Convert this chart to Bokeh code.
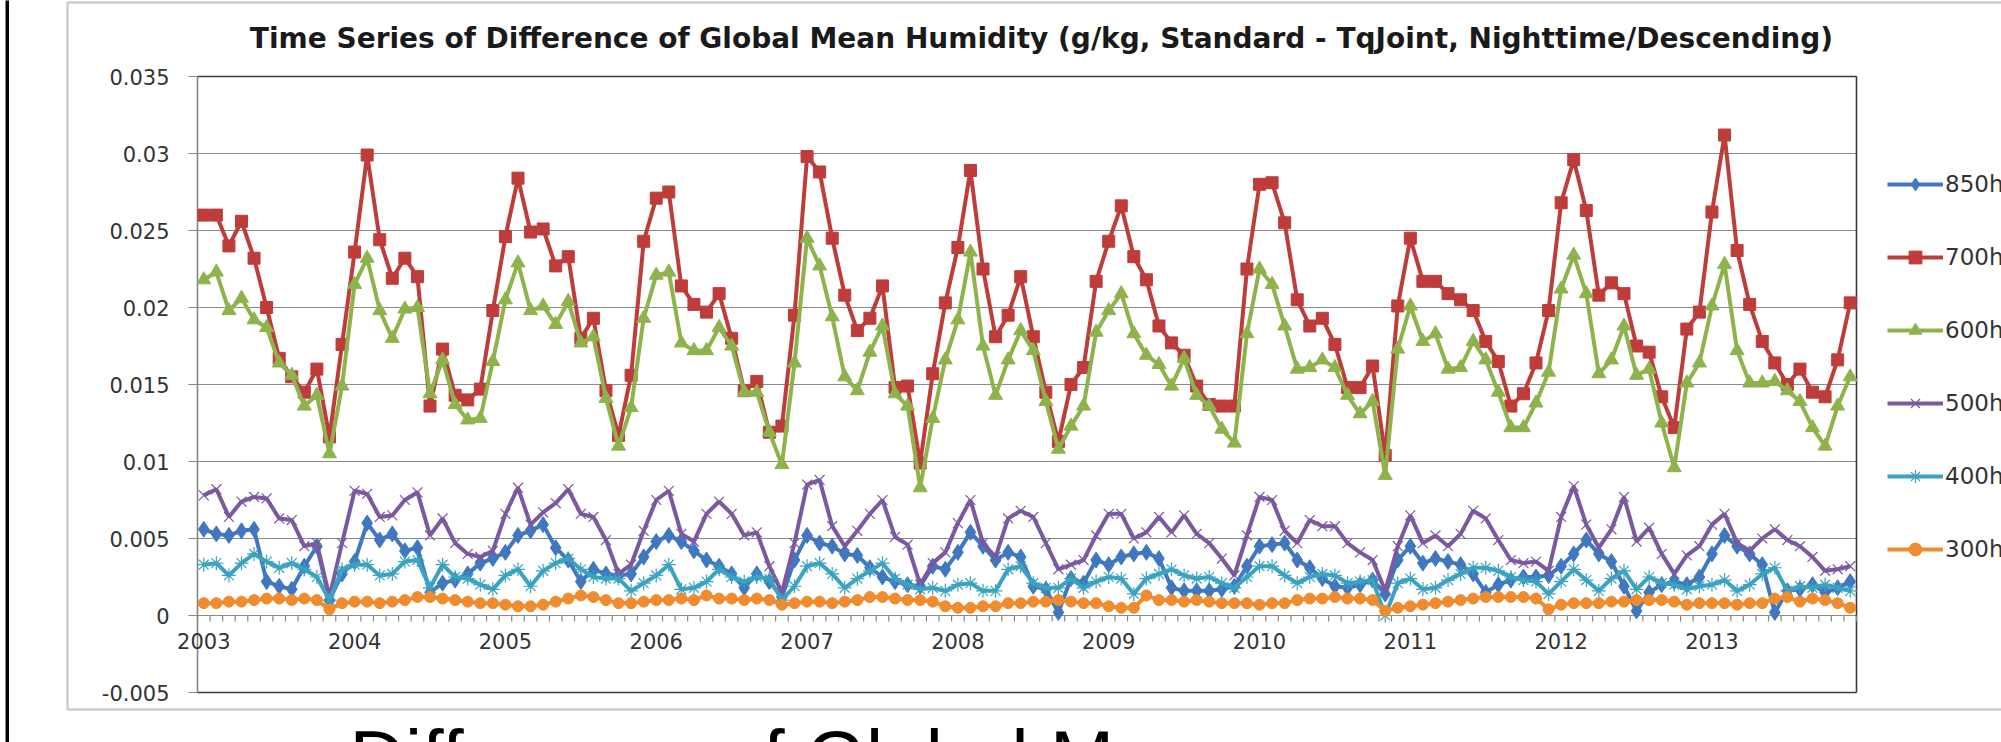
from bokeh.plotting import figure
from bokeh.models import (Range1d, Label, LabelSet, ColumnDataSource,
                          Legend, LegendItem, BoxAnnotation)
from bokeh.core.properties import value
from bokeh.embed import file_html
from bokeh.resources import INLINE

# ---------------- data (monthly, Jan 2003 .. Dec 2013) ----------------
years = ["2003", "2004", "2005", "2006", "2007", "2008", "2009", "2010", "2011", "2012", "2013"]
series_names = ["850hPa", "700hPa", "600hPa", "500hPa", "400hPa", "300hPa"]
y_tick_values = [-0.005, 0.0, 0.005, 0.01, 0.015, 0.02, 0.025, 0.03, 0.035]
y_tick_labels = ["-0.005", "0", "0.005", "0.01", "0.015", "0.02", "0.025", "0.03", "0.035"]

p850 = [0.0056, 0.0053, 0.0052, 0.0055, 0.0056, 0.0022, 0.0019, 0.0017, 0.0032, 0.0045, 0.0010, 0.0027,
        0.0035, 0.0060, 0.0049, 0.0053, 0.0042, 0.0044, 0.0015, 0.0021, 0.0023, 0.0027, 0.0034, 0.0037,
        0.0041, 0.0052, 0.0055, 0.0059, 0.0044, 0.0036, 0.0022, 0.0030, 0.0027,
        0.0026, 0.0027, 0.0038, 0.0048, 0.0052, 0.0048, 0.0042, 0.0036, 0.0032, 0.0027, 0.0018, 0.0027,
        0.0022, 0.0012, 0.0036, 0.0052, 0.0047, 0.0045, 0.0040, 0.0039, 0.0031, 0.0025, 0.0022, 0.0020,
        0.0019, 0.0032, 0.0030, 0.0041, 0.0054, 0.0045, 0.0036, 0.0041, 0.0038,
        0.0019, 0.0017, 0.0002, 0.0024, 0.0021, 0.0036, 0.0033, 0.0038, 0.0040, 0.0041, 0.0037, 0.0018,
        0.0016, 0.0016, 0.0016, 0.0017, 0.0019, 0.0032, 0.0045, 0.0046, 0.0047, 0.0036, 0.0031, 0.0024,
        0.0019, 0.0018, 0.0020, 0.0023, 0.0014, 0.0036, 0.0045, 0.0034,
        0.0037, 0.0035, 0.0033, 0.0027, 0.0015, 0.0020, 0.0023, 0.0025, 0.0025, 0.0026, 0.0032, 0.0040,
        0.0049, 0.0040, 0.0035, 0.0019, 0.0003, 0.0015, 0.0020, 0.0022, 0.0020, 0.0025, 0.0040, 0.0052,
        0.0045, 0.0040, 0.0033, 0.0002, 0.0016, 0.0017, 0.0020, 0.0015, 0.0018, 0.0022]

p700 = [0.0260, 0.0260, 0.0240, 0.0256, 0.0232, 0.0200, 0.0167, 0.0155, 0.0145, 0.0160, 0.0116, 0.0176,
        0.0236, 0.0299, 0.0244, 0.0219, 0.0232, 0.0220, 0.0136, 0.0173, 0.0143, 0.0140, 0.0147, 0.0198,
        0.0246, 0.0284, 0.0249, 0.0251, 0.0227, 0.0233, 0.0180, 0.0193, 0.0146,
        0.0117, 0.0156, 0.0243, 0.0271, 0.0275, 0.0214, 0.0202, 0.0197, 0.0209, 0.0180, 0.0146, 0.0152,
        0.0119, 0.0123, 0.0195, 0.0298, 0.0288, 0.0245, 0.0208, 0.0185, 0.0193, 0.0214, 0.0148, 0.0149,
        0.0099, 0.0157, 0.0203, 0.0239, 0.0289, 0.0225, 0.0181, 0.0195, 0.0220,
        0.0181, 0.0145, 0.0113, 0.0150, 0.0161, 0.0217, 0.0243, 0.0266, 0.0233, 0.0218, 0.0188, 0.0177,
        0.0169, 0.0149, 0.0137, 0.0136, 0.0136, 0.0225, 0.0280, 0.0281, 0.0255, 0.0205, 0.0188, 0.0193,
        0.0176, 0.0148, 0.0148, 0.0162, 0.0104, 0.0201, 0.0245, 0.0217,
        0.0217, 0.0209, 0.0205, 0.0198, 0.0178, 0.0165, 0.0136, 0.0144, 0.0164, 0.0198, 0.0268, 0.0296,
        0.0263, 0.0208, 0.0216, 0.0209, 0.0175, 0.0171, 0.0142, 0.0122, 0.0186, 0.0197, 0.0262, 0.0312,
        0.0237, 0.0202, 0.0178, 0.0164, 0.0150, 0.0160, 0.0145, 0.0142, 0.0166, 0.0203]

p600 = [0.0218, 0.0223, 0.0198, 0.0206, 0.0192, 0.0187, 0.0164, 0.0156, 0.0136, 0.0143, 0.0105, 0.0149,
        0.0215, 0.0232, 0.0198, 0.0180, 0.0199, 0.0200, 0.0144, 0.0166, 0.0137, 0.0127, 0.0128, 0.0165,
        0.0205, 0.0229, 0.0198, 0.0201, 0.0189, 0.0204, 0.0177, 0.0181, 0.0141,
        0.0110, 0.0135, 0.0193, 0.0221, 0.0223, 0.0177, 0.0172, 0.0172, 0.0187, 0.0175, 0.0145, 0.0145,
        0.0119, 0.0098, 0.0164, 0.0245, 0.0227, 0.0194, 0.0155, 0.0146, 0.0171, 0.0188, 0.0144, 0.0136,
        0.0083, 0.0128, 0.0166, 0.0192, 0.0236, 0.0175, 0.0143, 0.0166, 0.0185,
        0.0172, 0.0139, 0.0108, 0.0123, 0.0136, 0.0184, 0.0198, 0.0209, 0.0183, 0.0169, 0.0163, 0.0149,
        0.0167, 0.0143, 0.0136, 0.0121, 0.0112, 0.0183, 0.0225, 0.0215, 0.0188, 0.0160, 0.0161, 0.0166,
        0.0161, 0.0143, 0.0131, 0.0139, 0.0091, 0.0173, 0.0201, 0.0178,
        0.0183, 0.0160, 0.0161, 0.0178, 0.0166, 0.0145, 0.0122, 0.0122, 0.0138, 0.0158, 0.0212, 0.0234,
        0.0209, 0.0157, 0.0166, 0.0188, 0.0156, 0.0160, 0.0125, 0.0096, 0.0151, 0.0164, 0.0201, 0.0228,
        0.0172, 0.0151, 0.0151, 0.0152, 0.0146, 0.0139, 0.0122, 0.0110, 0.0136, 0.0155]

p500 = [0.0078, 0.0082, 0.0064, 0.0074, 0.0077, 0.0076, 0.0063, 0.0062, 0.0045, 0.0047, 0.0012, 0.0047,
        0.0081, 0.0079, 0.0064, 0.0065, 0.0075, 0.0080, 0.0052, 0.0063, 0.0047, 0.0040, 0.0038, 0.0042,
        0.0066, 0.0083, 0.0059, 0.0067, 0.0073, 0.0082, 0.0066, 0.0064, 0.0049,
        0.0027, 0.0033, 0.0055, 0.0075, 0.0081, 0.0053, 0.0048, 0.0066, 0.0074, 0.0066, 0.0052, 0.0054,
        0.0032, 0.0015, 0.0047, 0.0085, 0.0088, 0.0058, 0.0045, 0.0055, 0.0066, 0.0075, 0.0051, 0.0046,
        0.0020, 0.0034, 0.0041, 0.0060, 0.0075, 0.0047, 0.0038, 0.0063, 0.0068,
        0.0064, 0.0047, 0.0030, 0.0033, 0.0036, 0.0052, 0.0066, 0.0066, 0.0050, 0.0054, 0.0064, 0.0054,
        0.0065, 0.0053, 0.0047, 0.0037, 0.0026, 0.0052, 0.0077, 0.0075, 0.0055, 0.0047, 0.0062, 0.0058,
        0.0058, 0.0047, 0.0041, 0.0036, 0.0016, 0.0045, 0.0065, 0.0047,
        0.0052, 0.0045, 0.0053, 0.0068, 0.0063, 0.0049, 0.0036, 0.0034, 0.0035, 0.0029, 0.0064, 0.0084,
        0.0059, 0.0044, 0.0056, 0.0077, 0.0048, 0.0057, 0.0040, 0.0027, 0.0039, 0.0045, 0.0059, 0.0066,
        0.0047, 0.0042, 0.0050, 0.0056, 0.0049, 0.0045, 0.0038, 0.0029, 0.0030, 0.0032]

p400 = [0.0033, 0.0034, 0.0026, 0.0034, 0.0040, 0.0035, 0.0031, 0.0034, 0.0030, 0.0025, 0.0010, 0.0030,
        0.0033, 0.0033, 0.0026, 0.0027, 0.0035, 0.0036, 0.0018, 0.0033, 0.0025, 0.0024, 0.0020, 0.0017,
        0.0026, 0.0030, 0.0019, 0.0029, 0.0034, 0.0037, 0.0030, 0.0025, 0.0024,
        0.0024, 0.0016, 0.0021, 0.0026, 0.0033, 0.0017, 0.0018, 0.0022, 0.0030, 0.0025, 0.0022, 0.0025,
        0.0024, 0.0010, 0.0019, 0.0032, 0.0034, 0.0027, 0.0018, 0.0024, 0.0029, 0.0034, 0.0024, 0.0020,
        0.0017, 0.0018, 0.0016, 0.0020, 0.0021, 0.0016, 0.0016, 0.0030, 0.0032,
        0.0021, 0.0018, 0.0018, 0.0024, 0.0018, 0.0022, 0.0025, 0.0024, 0.0014, 0.0024, 0.0027, 0.0030,
        0.0026, 0.0024, 0.0025, 0.0021, 0.0018, 0.0025, 0.0032, 0.0032, 0.0026, 0.0021, 0.0025, 0.0027,
        0.0026, 0.0021, 0.0022, 0.0023, 0.0000, 0.0021, 0.0024, 0.0017,
        0.0018, 0.0023, 0.0027, 0.0031, 0.0031, 0.0029, 0.0025, 0.0023, 0.0022, 0.0014, 0.0022, 0.0030,
        0.0023, 0.0016, 0.0024, 0.0029, 0.0017, 0.0025, 0.0021, 0.0020, 0.0017, 0.0019, 0.0020, 0.0023,
        0.0016, 0.0020, 0.0027, 0.0031, 0.0016, 0.0019, 0.0018, 0.0020, 0.0018, 0.0016]

p300 = [0.0008, 0.0008, 0.0009, 0.0009, 0.0010, 0.0011, 0.0011, 0.0010, 0.0011, 0.0010, 0.0004, 0.0008,
        0.0009, 0.0009, 0.0008, 0.0009, 0.0010, 0.0012, 0.0012, 0.0011, 0.0010, 0.0009, 0.0008, 0.0008,
        0.0007, 0.0006, 0.0006, 0.0007, 0.0009, 0.0011, 0.0013, 0.0012, 0.0010,
        0.0008, 0.0008, 0.0009, 0.0010, 0.0010, 0.0011, 0.0010, 0.0013, 0.0011, 0.0011, 0.0010, 0.0011,
        0.0010, 0.0007, 0.0008, 0.0009, 0.0009, 0.0008, 0.0009, 0.0010, 0.0012, 0.0012, 0.0011, 0.0010,
        0.0010, 0.0009, 0.0006, 0.0005, 0.0005, 0.0006, 0.0006, 0.0008, 0.0008,
        0.0009, 0.0009, 0.0010, 0.0009, 0.0008, 0.0008, 0.0006, 0.0005, 0.0005, 0.0013, 0.0010, 0.0010,
        0.0009, 0.0010, 0.0009, 0.0008, 0.0008, 0.0008, 0.0007, 0.0008, 0.0008, 0.0010, 0.0011, 0.0011,
        0.0012, 0.0011, 0.0011, 0.0010, 0.0003, 0.0005, 0.0006, 0.0007,
        0.0008, 0.0009, 0.0010, 0.0011, 0.0012, 0.0012, 0.0012, 0.0012, 0.0011, 0.0004, 0.0007, 0.0008,
        0.0008, 0.0008, 0.0009, 0.0009, 0.0010, 0.0010, 0.0010, 0.0009, 0.0007, 0.0008, 0.0008, 0.0008,
        0.0007, 0.0008, 0.0008, 0.0011, 0.0012, 0.0009, 0.0011, 0.0010, 0.0008, 0.0005]

# ---------------- layout helpers (page pixel -> data coordinate) ----------------
N = 132
X0, X1 = -0.5, N - 0.5          # category axis extent
Y0, Y1 = -0.005, 0.035          # value axis extent
FL, FR, FT, FB = 197, 1856, 76, 692   # plot area in page pixels
W, H = 2001, 742                # figure size (the page template has no body margin)


def xd(px):
    return X0 + (px - FL) / (FR - FL) * (X1 - X0)


def yd(py):
    return Y1 - (py - FT) / (FB - FT) * (Y1 - Y0)


p = figure(width=W, height=H, x_range=Range1d(xd(0), xd(W)), y_range=Range1d(yd(H), yd(0)),
           x_axis_location=None, y_axis_location=None, title=None, toolbar_location=None,
           output_backend="svg", min_border=0, min_border_left=0, min_border_right=0,
           min_border_top=0, min_border_bottom=0,
           background_fill_color="white", border_fill_color="white", outline_line_color=None)
p.xgrid.visible = False
p.ygrid.visible = False

GRID = "#8a8a8a"
DARK = "#3a3a3a"
TXT = "#333333"

# horizontal grid lines
n_t = len(y_tick_values)
p.segment(x0=[X0] * n_t, y0=y_tick_values, x1=[X1] * n_t, y1=y_tick_values,
          line_color=GRID, line_width=1)
# plot-area border: dark top/right/bottom, grey value axis on the left
p.segment(x0=[X0, X1, X0], y0=[Y1, Y1, Y0], x1=[X1, X1, X1], y1=[Y1, Y0, Y0],
          line_color=DARK, line_width=1.6)
p.segment(x0=[X0], y0=[Y0], x1=[X0], y1=[Y1], line_color="#868686", line_width=1.6)
# value-axis ticks and labels
p.segment(x0=[xd(188)] * n_t, y0=y_tick_values, x1=[X0] * n_t, y1=y_tick_values,
          line_color="#868686", line_width=1.2)
p.text(x=[xd(169)] * n_t, y=y_tick_values, text=y_tick_labels, text_align="right",
       text_baseline="middle", text_font=value("DejaVu Sans"), text_font_size="21px",
       text_color=TXT)

# category axis drawn at y = 0: monthly tick marks and year labels
bounds = [k - 0.5 for k in range(N + 1)]
tick_len = (Y1 - Y0) * 6 / (FB - FT)
p.segment(x0=bounds, y0=[0.0] * len(bounds), x1=bounds, y1=[-tick_len] * len(bounds),
          line_color="#868686", line_width=1.2)
year_src = ColumnDataSource(dict(x=[12 * i for i in range(len(years))],
                                 y=[yd(640)] * len(years), text=years))
p.add_layout(LabelSet(x="x", y="y", text="text", source=year_src, text_align="center",
                      text_baseline="middle", text_font=value("DejaVu Sans"),
                      text_font_size="21px", text_color=TXT))

# series
styles = [
    ("850hPa", p850, "#3F78BF", "diamond", 16, 1.0),
    ("700hPa", p700, "#BE3C3A", "square", 12, 1.0),
    ("600hPa", p600, "#8FB34C", "triangle", 14, 1.0),
    ("500hPa", p500, "#7A59A0", "x", 14, 1.2),
    ("400hPa", p400, "#3AA3C0", "asterisk", 14, 1.2),
    ("300hPa", p300, "#F08B2E", "circle", 11, 1.0),
]
items = []
for name, vals, col, mk, sz, lw in styles:
    src = ColumnDataSource(dict(x=list(range(len(vals))), y=vals))
    lr = p.line("x", "y", source=src, line_color=col, line_width=4)
    sr = p.scatter("x", "y", source=src, marker=mk, size=sz, fill_color=col,
                   line_color=col, line_width=lw)
    items.append(LegendItem(label=name, renderers=[lr, sr]))

legend = Legend(items=items, location=(1887, H - 565), orientation="vertical",
                glyph_width=56, glyph_height=32, label_height=32, spacing=41,
                padding=0, margin=0, label_standoff=2,
                label_text_font="DejaVu Sans", label_text_font_size="23px",
                label_text_color=TXT, border_line_alpha=0, background_fill_alpha=0)
p.add_layout(legend)

# title
p.add_layout(Label(x=xd(1041), y=yd(38), text=("Time Series of Difference of Global Mean Humidity "
                                               "(g/kg, Standard - TqJoint, Nighttime/Descending)"),
                   text_align="center", text_baseline="middle", text_font="DejaVu Sans",
                   text_font_style="bold", text_font_size="28px", text_color="#1a1a1a"))

# chart frame box and slide border
p.add_layout(BoxAnnotation(left=xd(67), right=xd(2300), top=yd(2), bottom=yd(709),
                           fill_alpha=0, line_color="#555555", line_width=2.5))
p.add_layout(BoxAnnotation(left=xd(5), right=xd(8.5), top=yd(-40), bottom=yd(900),
                           fill_color="black", fill_alpha=1, line_alpha=0))

# slide text below the chart (cut by the picture edge); anchored by its top inside the page
p.add_layout(Label(x=xd(349), y=yd(714), text="Difference of Global Mean",
                   text_align="left", text_baseline="top", text_font="Liberation Sans",
                   text_font_size="77px", text_color="black"))

open("out.html", "w").write(file_html(p, INLINE))
